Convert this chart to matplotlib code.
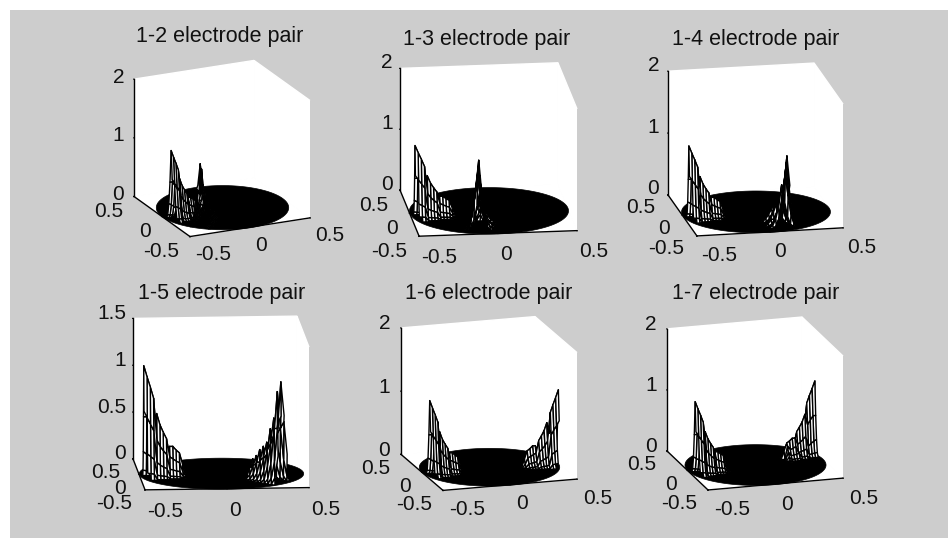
import numpy as np
import matplotlib
matplotlib.use("Agg")
import matplotlib.pyplot as plt
from matplotlib.patches import Rectangle
from mpl_toolkits.mplot3d import proj3d
from mpl_toolkits.mplot3d.art3d import Poly3DCollection

plt.rcParams['font.family'] = ['Liberation Sans', 'DejaVu Sans']
plt.rcParams['axes.unicode_minus'] = False

# data
titles = ['1-2 electrode pair', '1-3 electrode pair', '1-4 electrode pair',
          '1-5 electrode pair', '1-6 electrode pair', '1-7 electrode pair']
electrode_angles = {1: 195, 2: 225, 3: 255, 4: 285, 5: 315, 6: 345, 7: 15}
second_electrode = [2, 3, 4, 5, 6, 7]
radial_z = [1.2, 1.08, 0.97, 0.85, 0.68, 0.56, 0.48, 0.41, 0.36, 0.32, 0.28, 0.25, 0.21]
tangent_scale = [1.0, 0.6, 0.25, 0.06]
grid_x = [round(-0.5 + 0.02 * i, 2) for i in range(51)]
disc_radius = 0.5
xy_ticks = [-0.5, 0, 0.5]
xy_labels = ['-0.5', '0', '0.5']
z_ticks = [[0, 1, 2], [0, 1, 2], [0, 1, 2], [0, 0.5, 1, 1.5], [0, 1, 2], [0, 1, 2]]
z_labels = [['0', '1', '2'], ['0', '1', '2'], ['0', '1', '2'],
            ['0', '0.5', '1', '1.5'], ['0', '1', '2'], ['0', '1', '2']]
z_max = [2, 2, 2, 1.5, 2, 2]

# layout: (az, el, z aspect, left px, right px, mean y of hexagon)
views = [(25, 19.5, 0.94, 134, 310, 148.5),
         (6.9, 17, 0.80, 400, 577, 149.5),
         (11.2, 16.3, 0.866, 668, 843, 149.5),
         (4.2, 10.9, 0.87, 133, 309, 403),
         (17.4, 15.6, 0.935, 401, 577, 403.5),
         (16.9, 16.8, 0.904, 667, 843, 403.5)]
title_xy = [(220, 37), (487, 39), (756, 39), (222, 294), (489, 294), (756, 294)]
# pixel offsets of tick labels from their ticks
x_off = [(5, 18), (2, 21), (4, 20), (2, 22), (6, 19), (6, 20)]
y_off = [(-11, 15), (-12, 15), (-13, 13), (-13, 14), (-11, 14), (-11, 14)]
z_off = [(-10, -2), (-7, -6), (-9, -6), (-7, -5), (-11, -4), (-10, -4)]

W, H = 948, 538
fig = plt.figure(figsize=(W / 100, H / 100), dpi=100, facecolor='white')
fig.add_artist(Rectangle((10 / W, 0), (W - 10) / W, 1 - 10 / H, transform=fig.transFigure,
                         facecolor='#cdcdcd', edgecolor='none', zorder=-10))


def surface(elecs):
    g = np.array(grid_x)
    X, Y = np.meshgrid(g, g)
    Z = np.zeros_like(X)
    for e in elecs:
        a = np.deg2rad(electrode_angles[e])
        ux, uy = np.cos(a), np.sin(a)
        ex, ey = disc_radius * ux, disc_radius * uy
        dr = -((X - ex) * ux + (Y - ey) * uy)
        dt = np.abs(-(X - ex) * uy + (Y - ey) * ux)
        ir = np.rint(dr / 0.02).astype(int)
        it = np.rint(dt / 0.02).astype(int)
        ok = (ir >= 0) & (ir < len(radial_z)) & (it < len(tangent_scale))
        Z[ok] = np.maximum(Z[ok], np.array(radial_z)[ir[ok]] * np.array(tangent_scale)[it[ok]])
    inside = X ** 2 + Y ** 2 <= disc_radius ** 2 + 1e-9
    return X, Y, Z, inside


def project(ax, p):
    x2, y2, _ = proj3d.proj_transform(*p, ax.get_proj())
    return ax.transData.transform((x2, y2))


def corners(ax, zm):
    pts = [(-.5, -.5, 0), (.5, -.5, 0), (-.5, .5, 0), (-.5, .5, zm), (.5, -.5, zm), (.5, .5, zm)]
    return np.array([project(ax, p) for p in pts])


def label(ax, p, off, s, ha):
    d = project(ax, p)
    fig.text((d[0] + off[0]) / W, (d[1] - off[1]) / H, s, ha=ha, va='center',
             fontsize=15, color='#111111')


for i in range(6):
    az, el, zr, lpx, rpx, ymid = views[i]
    zm = z_max[i]
    ax = fig.add_axes([0.1, 0.1, 0.3, 0.3 * W / H], projection='3d', proj_type='ortho')
    ax.patch.set_alpha(0)
    ax.computed_zorder = False
    ax.view_init(elev=el, azim=-90 - az)
    ax.set_box_aspect((1, 1, zr))
    ax.set_xlim(-.5, .5)
    ax.set_ylim(-.5, .5)
    ax.set_zlim(0, zm)
    # fit the box to its place in the figure
    for _ in range(3):
        ax.apply_aspect()
        c = corners(ax, zm)
        w0 = c[:, 0].max() - c[:, 0].min()
        s = (rpx - lpx) / w0
        bb = ax.get_position()
        size = bb.width * W * s
        cx0 = (c[:, 0].max() + c[:, 0].min()) / 2
        cy0 = (c[:, 1].max() + c[:, 1].min()) / 2
        axcx = (bb.x0 + bb.width / 2) * W
        axcy = (bb.y0 + bb.height / 2) * H
        ncx = axcx + ((lpx + rpx) / 2 - cx0) - (cx0 - axcx) * (s - 1)
        ncy = axcy + ((H - ymid) - cy0) - (cy0 - axcy) * (s - 1)
        ax.set_position([(ncx - size / 2) / W, (ncy - size / 2) / H, size / W, size / H])
    ax.apply_aspect()

    t = np.deg2rad(np.arange(0, 360, 3))
    ax.add_collection3d(Poly3DCollection(
        [list(zip(disc_radius * np.cos(t), disc_radius * np.sin(t), np.zeros_like(t)))],
        facecolors='black', edgecolors='black', linewidths=0.5, zorder=2))

    X, Y, Z, inside = surface([1, second_electrode[i]])
    polys, faces = [], []
    n = X.shape[0]
    for r in range(n - 1):
        for q in range(n - 1):
            idx = [(r, q), (r, q + 1), (r + 1, q + 1), (r + 1, q)]
            if not all(inside[k] for k in idx) or max(Z[k] for k in idx) <= 0:
                continue
            polys.append([(X[k], Y[k], Z[k]) for k in idx])
            faces.append('white')
    ax.add_collection3d(Poly3DCollection(polys, facecolors=faces, edgecolors='black',
                                         linewidths=1.0, zorder=3))

    ax.grid(False)
    for axis in (ax.xaxis, ax.yaxis, ax.zaxis):
        axis.set_pane_color('white')
        axis.pane.set_edgecolor('white')
        axis.line.set_color('black')
        axis.line.set_linewidth(1.0)
        axis._axinfo['tick']['inward_factor'] = 0.03
        axis._axinfo['tick']['outward_factor'] = 0.0
    ax.set_xticks(xy_ticks, [''] * 3)
    ax.set_yticks(xy_ticks, [''] * 3)
    ax.set_zticks(z_ticks[i], [''] * len(z_ticks[i]))
    ax.zaxis.set_ticks_position('upper')
    for v, s in zip(xy_ticks, xy_labels):
        label(ax, (v, -.5, 0), x_off[i], s, 'left')
        label(ax, (-.5, v, 0), y_off[i], s, 'right')
    for v, s in zip(z_ticks[i], z_labels[i]):
        label(ax, (-.5, .5, v), z_off[i], s, 'right')
    fig.text(title_xy[i][0] / W, 1 - title_xy[i][1] / H, titles[i], ha='center', va='center',
             fontsize=15.5, color='#111111')

fig.savefig('out.png', dpi=100, facecolor='white')
